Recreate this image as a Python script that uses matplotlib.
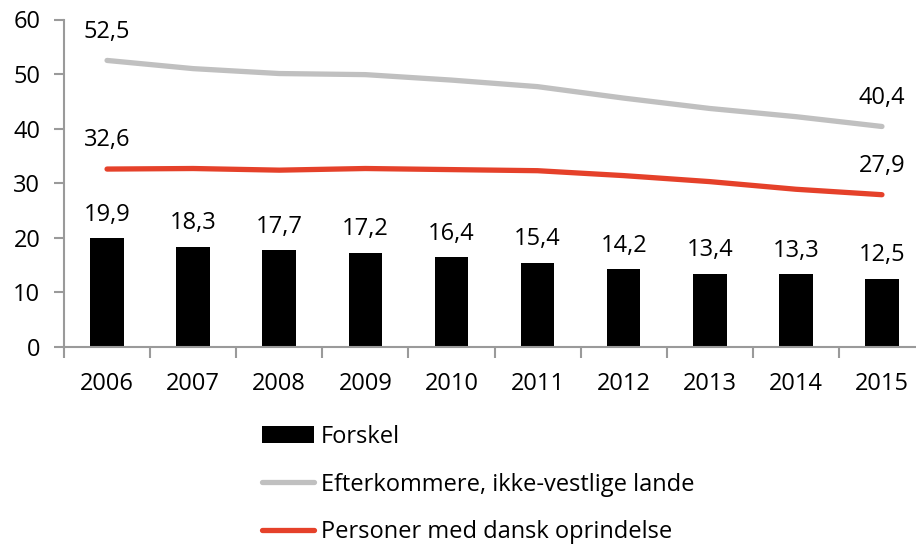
import matplotlib
matplotlib.use("Agg")
import matplotlib.pyplot as plt
import numpy as np

years = ["2006", "2007", "2008", "2009", "2010", "2011", "2012", "2013", "2014", "2015"]
forskel = [19.9, 18.3, 17.7, 17.2, 16.4, 15.4, 14.2, 13.4, 13.3, 12.5]
efterkommere = [52.5, 51.0, 50.1, 49.9, 48.9, 47.7, 45.6, 43.7, 42.2, 40.4]
dansk = [32.6, 32.7, 32.4, 32.7, 32.5, 32.3, 31.4, 30.3, 28.9, 27.9]
yticks = [0, 10, 20, 30, 40, 50, 60]

plt.rcParams['font.family'] = ['Open Sans', 'DejaVu Sans']

fig = plt.figure(figsize=(9.16, 5.44), dpi=100)
ax = fig.add_axes([64/916, (544-347)/544, 861/916, (347-19.5)/544])

x = np.arange(len(years))
axis_col = "#9a9a9a"
grey = "#c0c0c0"
red = "#e5412a"
fs = 17

bars = ax.bar(x, forskel, width=0.39, color="black", label="Forskel", zorder=2)
l1, = ax.plot(x, efterkommere, color=grey, lw=3.8, solid_capstyle="round",
              label="Efterkommere, ikke-vestlige lande", zorder=3)
l2, = ax.plot(x, dansk, color=red, lw=3.8, solid_capstyle="round",
              label="Personer med dansk oprindelse", zorder=3)

def fmt(v):
    return f"{v:.1f}".replace(".", ",")

for xi, v in zip(x, forskel):
    ax.annotate(fmt(v), (xi, v), xytext=(0, 8.5), textcoords="offset points",
                ha="center", va="bottom", fontsize=fs)
for series in (efterkommere, dansk):
    for i in (0, len(x) - 1):
        ax.annotate(fmt(series[i]), (x[i], series[i]), xytext=(0, 12),
                    textcoords="offset points", ha="center", va="bottom", fontsize=fs)

ax.set_xlim(-0.5, len(x) - 0.5)
ax.set_ylim(0, 60)
ax.set_yticks(yticks)
ax.set_yticklabels([str(t) for t in yticks], fontsize=fs)
ax.set_xticks(x)
ax.set_xticklabels(years, fontsize=fs)
ax.set_xticks(np.arange(-0.5, len(x) - 0.5, 1.0), minor=True)
ax.tick_params(axis="x", which="major", length=0, pad=18)
ax.tick_params(axis="x", which="minor", length=8, width=1.5, color=axis_col, direction="out")
ax.tick_params(axis="y", length=7, width=1.5, color=axis_col, pad=10)

for s in ("top", "right"):
    ax.spines[s].set_visible(False)
for s in ("left", "bottom"):
    ax.spines[s].set_color(axis_col)
    ax.spines[s].set_linewidth(1.5)

fig.legend(handles=[bars, l1, l2], loc="upper left", bbox_to_anchor=(262/916, 1 - 425/544),
           frameon=False, fontsize=fs, handlelength=2.2, handletextpad=0.3,
           labelspacing=1.0, borderaxespad=0, borderpad=0)

fig.savefig("out.png", dpi=100)
